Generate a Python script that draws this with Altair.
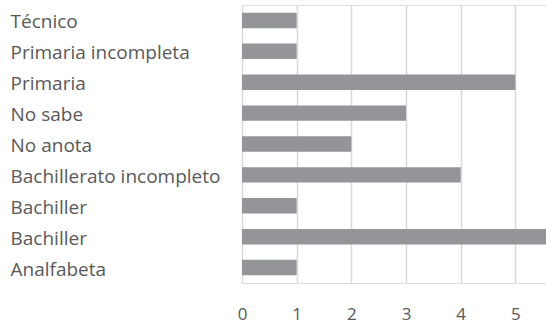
import altair as alt
import pandas as pd
import json

categories = ["Técnico", "Primaria incompleta", "Primaria", "No sabe", "No anota",
              "Bachillerato incompleto", "Bachiller", "Bachiller", "Analfabeta"]
values = [1, 1, 5, 3, 2, 4, 1, 6, 1]
x_ticks = [0, 1, 2, 3, 4, 5]

df = pd.DataFrame({
    "key": [str(i) for i in range(len(categories))],
    "categoria": categories,
    "valor": values,
})

label_expr = json.dumps(categories, ensure_ascii=False) + "[toNumber(datum.value)]"

font = "Open Sans"
text_color = "#595959"

chart = alt.Chart(df).mark_bar(color="#939598", clip=True).encode(
    x=alt.X("valor:Q",
            scale=alt.Scale(domain=[0, 5.56], nice=False, zero=True),
            axis=alt.Axis(values=x_ticks, title=None, grid=True, gridColor="#d9d9d9",
                          gridWidth=1.5, domain=False, ticks=False, labelPadding=23,
                          labelFont=font, labelFontSize=17, labelColor=text_color,
                          labelFlush=False)),
    y=alt.Y("key:N", sort=None,
            scale=alt.Scale(paddingInner=0.5, paddingOuter=0.25),
            axis=alt.Axis(title=None, domain=False, ticks=False, labelPadding=232,
                          labelAlign="left", labelOffset=2,
                          labelExpr=label_expr, labelFont=font, labelFontSize=19,
                          labelColor=text_color, labelLimit=400)),
).properties(
    width=304, height=278,
    autosize=alt.AutoSizeParams(type="none"),
    padding={"left": 242, "top": 5, "right": 0, "bottom": 40},
).configure_view(stroke=None).configure(background="white")

chart.save("out.html", embed_options={"renderer": "svg", "actions": False})
